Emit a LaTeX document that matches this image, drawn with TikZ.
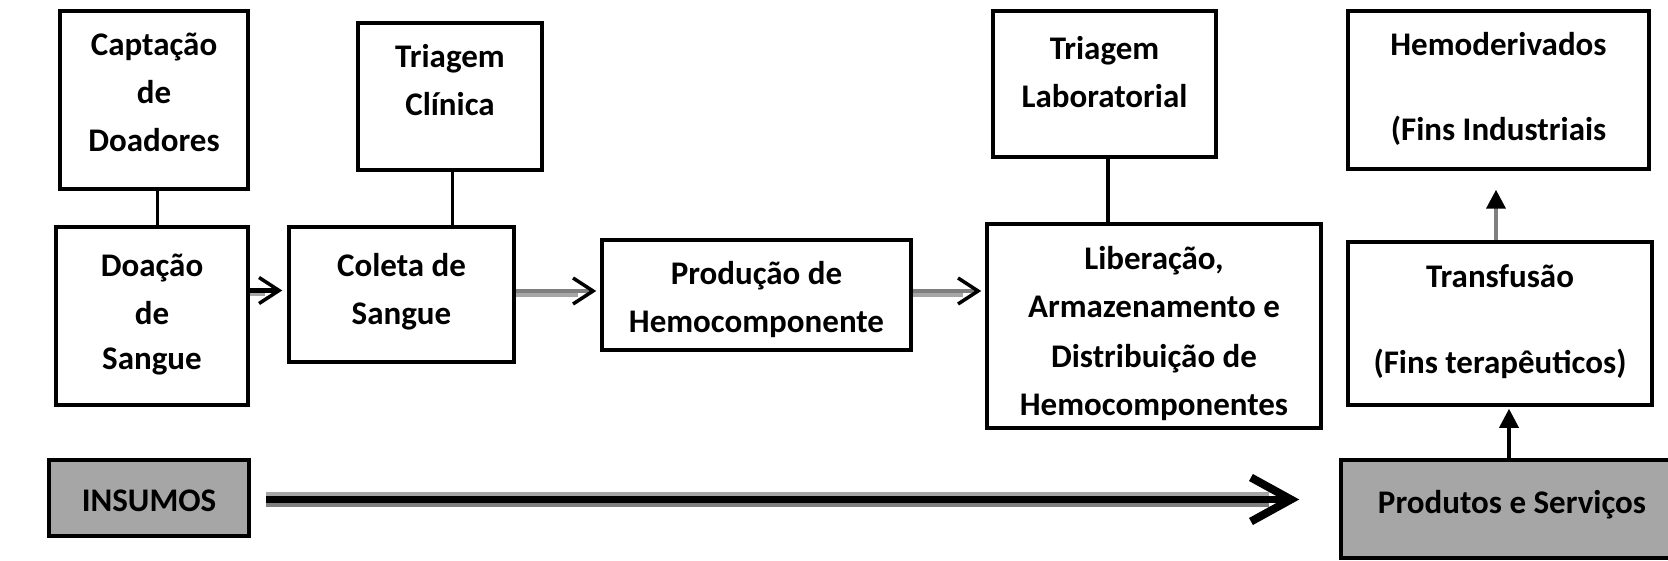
\documentclass[tikz,border=0pt]{standalone}
\usepackage{fontspec}
\setmainfont{Carlito}
\usetikzlibrary{arrows.meta,calc}
\definecolor{boxgray}{HTML}{A6A6A6}
\definecolor{dgray}{HTML}{7F7F7F}
\definecolor{lgray}{HTML}{A6A6A6}
\begin{document}
\begin{tikzpicture}[x=1pt,y=-1pt,
  box/.style={draw=black, line width=3.5pt, rectangle, inner sep=0pt},
  graybox/.style={box, fill=boxgray},
  txt/.style={anchor=base, inner sep=0pt, text=black, font=\fontsize{33}{40}\selectfont\bfseries},
  link/.style={draw=black, line width=3.5pt},
  barb/.style={-{Straight Barb[length=20pt,width=26pt,line width=3.5pt,color=black]}},
  bigbarb/.style={-{Straight Barb[length=40pt,width=44pt,line width=8pt]}},
  uptip/.style={-{Triangle[length=19pt,width=19pt,color=black]}}]
\useasboundingbox (0,0) rectangle (1668,561);
\clip (0,0) rectangle (1668,561);

% boxes
\node[box, minimum width=188pt, minimum height=178pt] (capt) at (154,100) {};
\node[box, minimum width=192pt, minimum height=178pt] (doacao) at (152,316) {};
\node[box, minimum width=184pt, minimum height=147pt] (triclin) at (450,96.5) {};
\node[box, minimum width=225pt, minimum height=135pt] (coleta) at (401.5,294.5) {};
\node[box, minimum width=309pt, minimum height=110pt] (producao) at (756.5,295) {};
\node[box, minimum width=223pt, minimum height=146pt] (trilab) at (1104.5,84) {};
\node[box, minimum width=334pt, minimum height=204pt] (liber) at (1154,326) {};
\node[box, minimum width=301pt, minimum height=158pt] (hemod) at (1498.5,90) {};
\node[box, minimum width=304pt, minimum height=163pt] (transf) at (1500,323.5) {};
\node[graybox, minimum width=200pt, minimum height=76pt] (insumos) at (149,498) {};
\node[graybox, minimum width=349pt, minimum height=98pt] (produtos) at (1515.5,509) {};

% texts
\node[txt] (t1a) at (154,56) {Captação};
\node[txt] (t1b) at (154,104) {de};
\node[txt] (t1c) at (154,152) {Doadores};
\node[txt] (t2a) at (152,277) {Doação};
\node[txt] (t2b) at (152,325) {de};
\node[txt] (t2c) at (152,370) {Sangue};
\node[txt] (t3a) at (450,68) {Triagem};
\node[txt] (t3b) at (450,116) {Clínica};
\node[txt] (t4a) at (401.5,277) {Coleta de};
\node[txt] (t4b) at (401.5,325) {Sangue};
\node[txt] (t5a) at (756.5,285) {Produção de};
\node[txt] (t5b) at (756.5,333) {Hemocomponente};
\node[txt] (t6a) at (1104.5,60) {Triagem};
\node[txt] (t6b) at (1104.5,108) {Laboratorial};
\node[txt] (t7a) at (1154,270) {Liberação,};
\node[txt] (t7b) at (1154,318) {Armazenamento e};
\node[txt] (t7c) at (1154,367) {Distribuição de};
\node[txt] (t7d) at (1154,415) {Hemocomponentes};
\node[txt] (t8a) at (1498.5,56) {Hemoderivados};
\node[txt] (t8b) at (1498.5,141) {(Fins Industriais};
\node[txt] (t9a) at (1500,288) {Transfusão};
\node[txt] (t9b) at (1500,373) {(Fins terapêuticos)};
\node[txt] (t10) at (149,511) {INSUMOS};
\node[txt] (t11) at (1512,513) {Produtos e Serviços};

% plain links
\draw[link] ([xshift=3.5pt]capt.south) -- ([xshift=3.5pt]capt.south |- doacao.north);
\draw[link] ([xshift=2.5pt]triclin.south) -- ([xshift=2.5pt]triclin.south |- coleta.north);
\draw[link] ([xshift=3.5pt]trilab.south) -- ([xshift=3.5pt]trilab.south |- liber.north);

% Doacao -> Coleta
\draw[lgray, line width=3pt] (doacao.east |- 0,294.5) -- ([xshift=-22pt]coleta.west |- 0,294.5);
\draw[black, line width=4.5pt, barb, shorten >=5pt] (doacao.east |- 0,290.5) -- (coleta.west |- 0,290.5);

% Coleta -> Producao
\draw[lgray, line width=4pt] (coleta.east |- 0,295) -- ([xshift=-22pt]producao.west |- 0,295);
\draw[dgray, line width=4pt, barb, shorten >=4pt] (coleta.east |- 0,291) -- (producao.west |- 0,291);

% Producao -> Liberacao
\draw[lgray, line width=4pt] (producao.east |- 0,295) -- ([xshift=-22pt]liber.west |- 0,295);
\draw[dgray, line width=4pt, barb, shorten >=4pt] (producao.east |- 0,291) -- (liber.west |- 0,291);

% INSUMOS -> Produtos
\draw[lgray, line width=4pt, shorten <=15pt, shorten >=70pt] (insumos.east |- 0,494) -- (produtos.west |- 0,494);
\draw[dgray, line width=4pt, shorten <=15pt, shorten >=70pt] (insumos.east |- 0,505) -- (produtos.west |- 0,505);
\draw[black, line width=7pt, bigbarb, shorten <=15pt, shorten >=40pt] (insumos.east |- 0,499.5) -- (produtos.west |- 0,499.5);

% vertical arrows
\draw[dgray, line width=4pt, uptip, shorten >=19pt] ([xshift=-4pt]transf.north) -- ([xshift=-4pt]transf.north |- hemod.south);
\draw[black, line width=3.5pt, uptip, shorten >=2pt] (produtos.north -| 1509,0) -- (transf.south -| 1509,0);
\end{tikzpicture}
\end{document}
